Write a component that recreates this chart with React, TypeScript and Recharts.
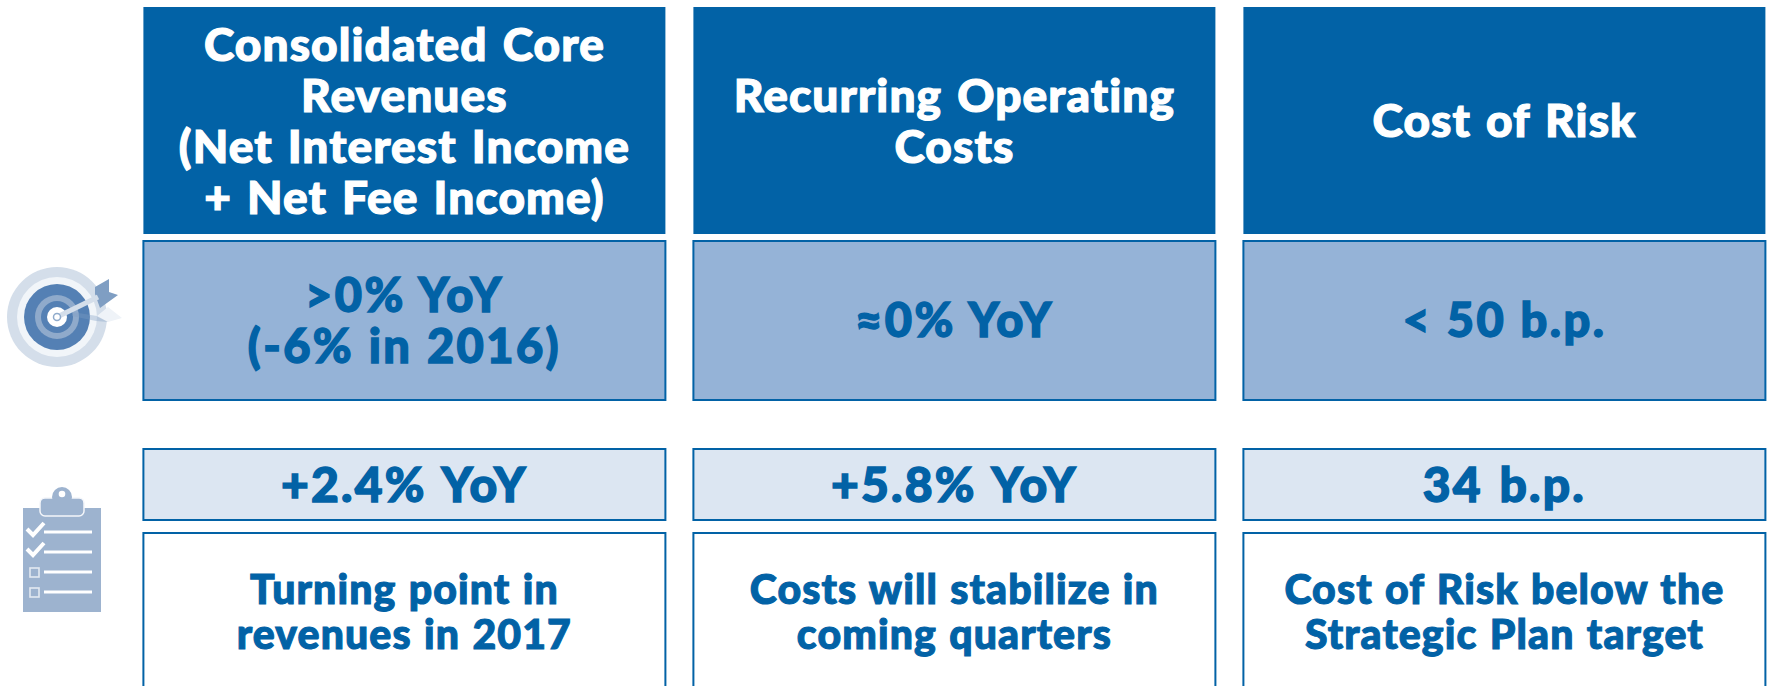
import React from "react";
import { BarChart, Bar, XAxis, YAxis, LabelList, Customized } from "recharts";

// ---- content
const categories = ["Core Revenues", "Operating Costs", "Cost of Risk"];
const headers = [
  "Consolidated Core\nRevenues\n(Net Interest Income\n+ Net Fee Income)",
  "Recurring Operating\nCosts",
  "Cost of Risk",
];
const targets = [">0% YoY\n(-6% in 2016)", "≈0% YoY", "< 50 b.p."];
const actuals = ["+2.4% YoY", "+5.8% YoY", "34 b.p."];
const comments = [
  "Turning point in\nrevenues in 2017",
  "Costs will stabilize in\ncoming quarters",
  "Cost of Risk below the\nStrategic Plan target",
];

// ---- band heights of the stacked rows, in vertical axis units
const ROWS = { top: 7, header: 227, gap1: 7, target: 159, gap2: 49, actual: 71, gap3: 13, comment: 157 };

const rows = categories.map((name, i) => ({
  name,
  ...ROWS,
  headerText: headers[i],
  targetText: targets[i],
  actualText: actuals[i],
  commentText: comments[i],
}));

const FONT = "Lato, sans-serif";
const BLUE = "#0262A6";

const boxLabel = (color: string, size: number, lh: number, spacing: number, words: number, heavy: number) => (p: any) => {
  const lines = String(p.value).split("\n");
  const cx = p.x + p.width / 2;
  const cy = p.y + p.height / 2;
  const first = cy - ((lines.length - 1) * lh) / 2 + size * 0.36;
  return (
    <text
      textAnchor="middle"
      fill={color}
      stroke={color}
      strokeWidth={heavy}
      fontFamily={FONT}
      fontWeight={900}
      fontSize={size}
      letterSpacing={spacing}
      wordSpacing={words}
    >
      {lines.map((l, i) => (
        <tspan key={i} x={cx} y={first + i * lh}>
          {l}
        </tspan>
      ))}
    </text>
  );
};

const Icons = () => (
  <g>
    {/* target */}
    <circle cx={57} cy={317} r={50} fill="#D4DEEA" />
    <circle cx={57} cy={317} r={40} fill="#F1F5F9" />
    <circle cx={57} cy={317} r={33} fill="#5480B4" />
    <circle cx={57} cy={317} r={22} fill="#8FAACB" />
    <circle cx={57} cy={317} r={16} fill="#5480B4" />
    <circle cx={57} cy={317} r={10} fill="#FFFFFF" />
    <polygon points="97,316 108,307 122,318 108,322 96,316" fill="#EFF3F8" />
    <polygon points="72,312 97,316 108,322 96,321 72,316" fill="#7F9EC3" opacity={0.35} />
    <polygon points="95,287 109,279 109,292 118,295 100,308 95,294" fill="#7F9EC3" />
    <line x1={57} y1={317} x2={98} y2={297} stroke="#D4DEEA" strokeWidth={5} />
    <circle cx={57} cy={317} r={3.5} fill="#FFFFFF" stroke="#8FAACB" strokeWidth={1.5} />
    {/* clipboard */}
    <rect x={23} y={508} width={78} height={104} fill="#9DB3CF" />
    <rect x={40} y={498} width={44} height={18} rx={5} fill="#9DB3CF" stroke="#F4F6FA" strokeWidth={1.5} />
    <circle cx={62} cy={497} r={10} fill="#9DB3CF" />
    <rect x={41} y={499} width={42} height={11} rx={4} fill="#9DB3CF" />
    <circle cx={62} cy={494} r={3.3} fill="#FFFFFF" />
    {[532, 552, 572, 592].map((y) => (
      <line key={y} x1={44} x2={92} y1={y} y2={y} stroke="#FFFFFF" strokeWidth={3} />
    ))}
    {[0, 20].map((d) => (
      <polyline key={d} points={`27,${529 + d} 33,${535 + d} 44,${523 + d}`} fill="none" stroke="#FFFFFF" strokeWidth={4} />
    ))}
    {[568, 588].map((y) => (
      <rect key={y} x={30} y={y} width={9} height={9} fill="none" stroke="#E3E9F1" strokeWidth={1.6} />
    ))}
  </g>
);

export default function App() {
  return (
    <div style={{ position: "absolute", left: 0, top: 0, width: 1771, height: 686, overflow: "hidden", background: "#fff" }}>
      <BarChart
        width={1780}
        height={700}
        data={rows}
        margin={{ left: 129.4, right: 0.6, top: 0, bottom: 0 }}
        barCategoryGap={14}
      >
        <XAxis dataKey="name" type="category" hide />
        <YAxis type="number" hide reversed domain={[0, 700]} allowDataOverflow />
        <Bar dataKey="top" stackId="s" fill="none" isAnimationActive={false} />
        <Bar dataKey="header" stackId="s" fill={BLUE} isAnimationActive={false}>
          <LabelList dataKey="headerText" content={boxLabel("#FFFFFF", 46, 51, 1.1, 3, 1.2)} />
        </Bar>
        <Bar dataKey="gap1" stackId="s" fill="none" isAnimationActive={false} />
        <Bar dataKey="target" stackId="s" fill="#95B3D7" stroke={BLUE} strokeWidth={2} isAnimationActive={false}>
          <LabelList dataKey="targetText" content={boxLabel(BLUE, 47, 51, 2.4, 1, 1.4)} />
        </Bar>
        <Bar dataKey="gap2" stackId="s" fill="none" isAnimationActive={false} />
        <Bar dataKey="actual" stackId="s" fill="#DCE6F2" stroke={BLUE} strokeWidth={2} isAnimationActive={false}>
          <LabelList dataKey="actualText" content={boxLabel(BLUE, 48, 51, 2.2, 3, 1.4)} />
        </Bar>
        <Bar dataKey="gap3" stackId="s" fill="none" isAnimationActive={false} />
        <Bar dataKey="comment" stackId="s" fill="#FFFFFF" stroke={BLUE} strokeWidth={2} isAnimationActive={false}>
          <LabelList dataKey="commentText" content={boxLabel(BLUE, 41, 45, 1.1, 1.5, 1.1)} />
        </Bar>
        <Customized component={Icons} />
      </BarChart>
    </div>
  );
}
